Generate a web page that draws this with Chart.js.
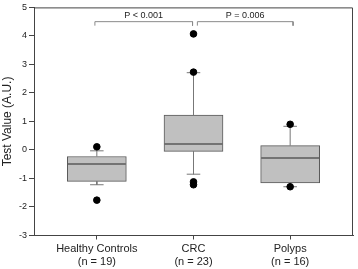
<!DOCTYPE html>
<html>
<head>
<meta charset="utf-8">
<script src="https://cdn.jsdelivr.net/npm/chart.js@4/dist/chart.umd.min.js"></script>
<style>
html,body{margin:0;padding:0;background:#fff;}
#wrap{width:358px;height:269px;}
</style>
</head>
<body>
<div id="wrap"><canvas id="c" width="358" height="269"></canvas></div>
<script>
// ---- data ----
const categories = [["Healthy Controls", "(n = 19)"], ["CRC", "(n = 23)"], ["Polyps", "(n = 16)"]];
const positions = [0, 1, 2];
const q1 = [-1.10, -0.05, -1.16];
const medians = [-0.49, 0.21, -0.28];
const q3 = [-0.23, 1.22, 0.15];
const whiskerLow = [-1.22, -0.85, -1.29];
const whiskerHigh = [-0.03, 2.71, 0.83];
const outliers = [[0.11, -1.76], [4.07, 2.73, -1.12, -1.22], [0.90, -1.29]];
const yTicks = [-3, -2, -1, 0, 1, 2, 3, 4, 5];
const brackets = [
  { from: -0.02, to: 0.99, label: "P < 0.001" },
  { from: 1.04, to: 2.03, label: "P = 0.006" }
];
const bracketTop = 4.5, bracketEnd = 4.36, bracketLabelY = 4.7;

// ---- build datasets ----
const boxHalf = 0.3, capHalf = 0.07;
const datasets = [];
datasets.push({
  type: 'bar',
  data: positions.map((p, i) => ({ x: p, y: [q1[i], q3[i]] })),
  backgroundColor: '#c0c0c0',
  borderColor: '#5a5a5a',
  borderWidth: 1,
  borderSkipped: false,
  barThickness: 59,
  order: 10
});
positions.forEach((p, i) => {
  const lineStyle = { type: 'line', showLine: true, pointRadius: 0, borderWidth: 1, fill: false, order: 1 };
  datasets.push(Object.assign({}, lineStyle, { borderColor: '#5a5a5a', borderWidth: 1.5,
    data: [{ x: p - boxHalf, y: medians[i] }, { x: p + boxHalf, y: medians[i] }] }));
  datasets.push(Object.assign({}, lineStyle, { borderColor: '#777',
    data: [{ x: p, y: q3[i] }, { x: p, y: whiskerHigh[i] }] }));
  datasets.push(Object.assign({}, lineStyle, { borderColor: '#777',
    data: [{ x: p, y: q1[i] }, { x: p, y: whiskerLow[i] }] }));
  datasets.push(Object.assign({}, lineStyle, { borderColor: '#777',
    data: [{ x: p - capHalf, y: whiskerHigh[i] }, { x: p + capHalf, y: whiskerHigh[i] }] }));
  datasets.push(Object.assign({}, lineStyle, { borderColor: '#777',
    data: [{ x: p - capHalf, y: whiskerLow[i] }, { x: p + capHalf, y: whiskerLow[i] }] }));
  datasets.push({ type: 'scatter', data: outliers[i].map(v => ({ x: p, y: v })),
    pointRadius: 3.3, pointBackgroundColor: '#000', pointBorderColor: '#000', order: 0 });
});
brackets.forEach(b => {
  datasets.push({ type: 'line', showLine: true, pointRadius: 0, borderWidth: 1, borderColor: '#8a8a8a', fill: false, order: 1,
    data: [{ x: b.from, y: bracketEnd }, { x: b.from, y: bracketTop }, { x: b.to, y: bracketTop }, { x: b.to, y: bracketEnd }] });
});

const framePlugin = {
  id: 'frame',
  afterDraw(chart) {
    const { ctx, chartArea: a, scales } = chart;
    ctx.save();
    ctx.strokeStyle = '#444';
    ctx.lineWidth = 1;
    ctx.beginPath();
    ctx.moveTo(a.left, a.top + 0.5);
    ctx.lineTo(a.right - 0.5, a.top + 0.5);
    ctx.lineTo(a.right - 0.5, a.bottom);
    ctx.stroke();
    ctx.fillStyle = '#222';
    ctx.font = '9px "Liberation Sans", Arial, sans-serif';
    ctx.textAlign = 'center';
    ctx.textBaseline = 'middle';
    brackets.forEach(b => {
      ctx.fillText(b.label, scales.x.getPixelForValue((b.from + b.to) / 2), scales.y.getPixelForValue(bracketLabelY));
    });
    ctx.restore();
  }
};

new Chart(document.getElementById('c'), {
  type: 'scatter',
  data: { datasets },
  plugins: [framePlugin],
  options: {
    responsive: false,
    animation: false,
    layout: { padding: { top: 4, right: 2, left: 0, bottom: 0 } },
    plugins: { legend: { display: false }, tooltip: { enabled: false } },
    scales: {
      x: {
        type: 'linear', min: -0.65, max: 2.65, offset: false,
        afterBuildTicks: s => { s.ticks = positions.map(v => ({ value: v })); },
        afterFit: s => { s.height = 33.5; },
        ticks: {
          callback: (v) => categories[positions.indexOf(v)] || '',
          color: '#222', font: { family: '"Liberation Sans", Arial, sans-serif', size: 11 },
          padding: 3, maxRotation: 0, autoSkip: false
        },
        grid: { offset: false, drawOnChartArea: false, drawTicks: true, tickLength: 4, color: '#444' },
        border: { color: '#444', width: 1 }
      },
      y: {
        min: -3, max: 5,
        afterBuildTicks: s => { s.ticks = yTicks.map(v => ({ value: v })); },
        afterFit: s => { s.width = 34; },
        ticks: { color: '#222', font: { family: '"Liberation Sans", Arial, sans-serif', size: 9 }, padding: 2 },
        grid: { drawOnChartArea: false, drawTicks: true, tickLength: 5, color: '#444' },
        border: { color: '#444', width: 1 },
        title: { display: true, text: 'Test Value (A.U.)', color: '#222',
          font: { family: '"Liberation Sans", Arial, sans-serif', size: 12 }, padding: { top: 0, bottom: 0 } }
      }
    }
  }
});
</script>
</body>
</html>
